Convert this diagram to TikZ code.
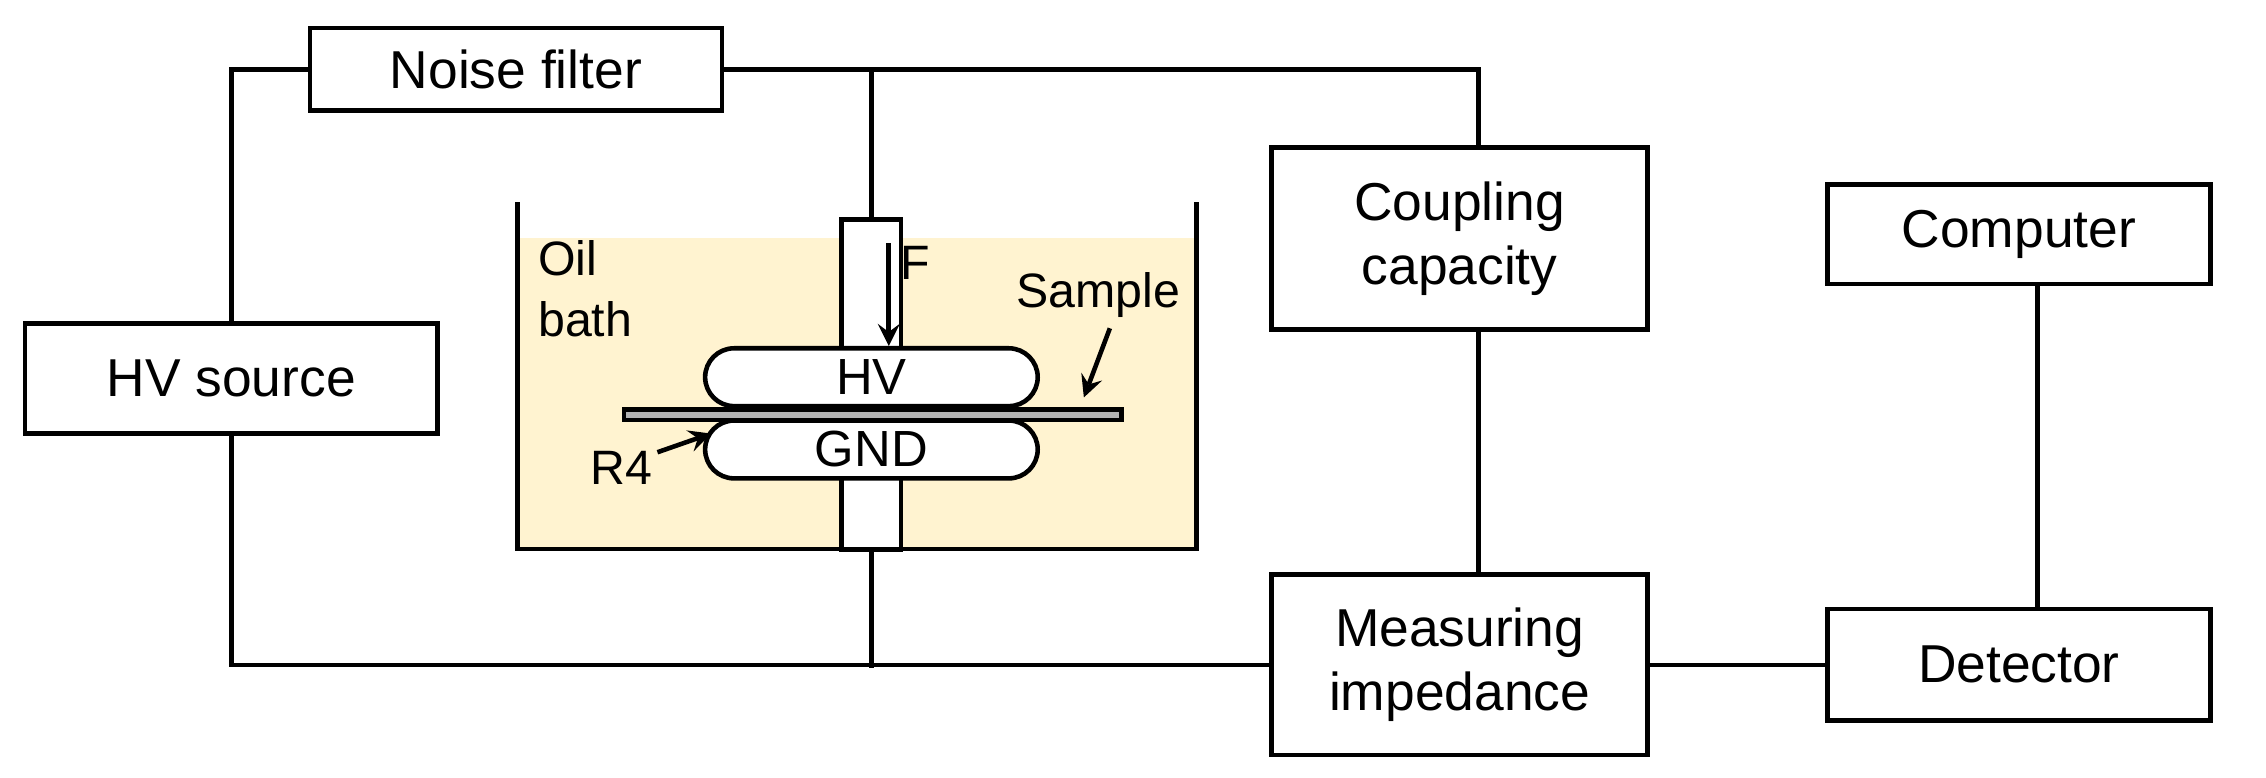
\documentclass[tikz,border=0pt]{standalone}
\usepackage{fontspec}
\setmainfont{Liberation Sans}
\usetikzlibrary{positioning}
\definecolor{oil}{RGB}{255,243,208}
\begin{document}
\begin{tikzpicture}[x=0.01cm,y=-0.01cm,line width=0.9pt,
  box/.style={draw,inner sep=0pt,font=\fontsize{10.5}{12.5}\selectfont,align=center},
  elec/.style={draw,fill=white,rounded corners=0.2cm,inner sep=0pt,minimum width=2.3cm,minimum height=0.4cm,font=\fontsize{10}{12}\selectfont},
  lbl/.style={font=\fontsize{9.5}{12}\selectfont,inner sep=0pt,align=left},
  >=stealth]
  \useasboundingbox (0,0) rectangle (1568,538);

  % boxes
  \node [box,minimum width=2.85cm,minimum height=0.57cm] (nf) at (357,48) {Noise filter};
  \node [box,minimum width=2.85cm,minimum height=0.76cm] (hv) at (160,262) {HV source};
  \node [box,minimum width=2.6cm,minimum height=1.26cm] (cc) at (1010,165) {Coupling\\capacity};
  \node [box,minimum width=2.65cm,minimum height=0.69cm] (pc) at (1397,162) {Computer};
  \node [box,minimum width=2.6cm,minimum height=1.25cm] (mi) at (1010,460) {Measuring\\impedance};
  \node [box,minimum width=2.65cm,minimum height=0.77cm] (det) at (1397,460) {Detector};

  % oil bath
  \fill [oil] (358,165) rectangle (828,380);
  \draw (358,140) -- (358,380) -- (828,380) -- (828,140);
  \node [draw,fill=white,minimum width=0.41cm,minimum height=2.28cm,inner sep=0pt] (rod) at (603,266) {};
  \node [lbl] (oil) at (405,200) {Oil\\bath};
  \node [elec] (hve) at (603,261) {HV};
  \node [elec] (gnd) at (603,311) {GND};
  \node [draw,fill=gray!60,minimum width=3.44cm,minimum height=0.07cm,inner sep=0pt] (smp) at (604,287) {};
  \coordinate (ftop) at (615,168);
  \draw [->] (ftop) -- (hve.north -| ftop);
  \node [lbl] (f) at (633,182) {F};
  \node [lbl] (smpl) at (760,204) {Sample};
  \draw [->] (smpl.south) ++(8,6) -- (750,275);
  \node [lbl] (r4) at (430,324) {R4};
  \draw [->] (r4.north east) ++(2,2) -- (492,300);

  % wiring
  \draw (hv.north) |- (nf.west);
  \draw (nf.east) -| (cc.north -| 1023,0);
  \draw (603,48) -- (rod.north);
  \draw (1023,228) -- (1023,397);
  \draw (rod.south) -- (603,462);
  \draw (hv.south) |- (mi.west);
  \draw (mi.east) -- (det.west);
  \draw (pc.south -| 1410,0) -- (det.north -| 1410,0);
\end{tikzpicture}
\end{document}
